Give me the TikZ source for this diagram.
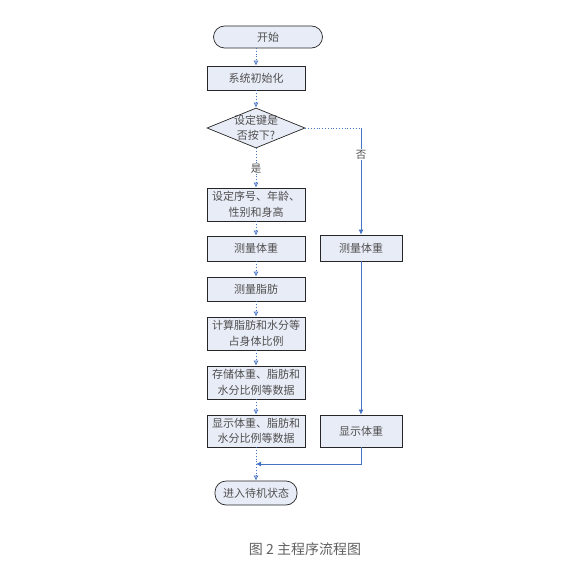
\documentclass[tikz,border=0pt]{standalone}
\usepackage{fontspec}
\setmainfont{Noto Sans CJK SC}
\usetikzlibrary{shapes.geometric,arrows.meta}
\definecolor{boxfill}{HTML}{E8ECF6}
\definecolor{lineblue}{HTML}{4472C4}
\definecolor{txtgray}{HTML}{505050}
\tikzset{
  proc/.style={draw=black!85, line width=0.7pt, fill=boxfill, minimum width=98pt, align=center, text=txtgray, font=\fontsize{11}{15.5}\selectfont, inner sep=0pt},
  term/.style={draw=black!85, line width=0.7pt, fill=boxfill, rounded corners=11pt, align=center, text=txtgray, font=\fontsize{11}{15.5}\selectfont},
  dec/.style={draw=black!85, line width=0.7pt, fill=boxfill, diamond, aspect=2.45, align=center, text=txtgray, font=\fontsize{11}{15}\selectfont, inner sep=-4.5pt, minimum width=98pt, minimum height=40pt},
  dotarrow/.style={draw=lineblue, line width=0.8pt, dotted, -{Latex[length=5pt,width=5pt,open=false]}},
  solarrow/.style={draw=lineblue, line width=0.8pt, -{Latex[length=5pt,width=5pt]}},
  lbl/.style={text=txtgray, font=\fontsize{10.5}{12}\selectfont, fill=white, inner sep=1pt}
}
\begin{document}
\begin{tikzpicture}[x=1pt,y=-1pt]
\useasboundingbox (0,0) rectangle (582,583);
\node[term, minimum width=109pt, minimum height=22pt] (start) at (268,37) {开始};
\node[proc, minimum height=24pt] (init) at (256,78) {系统初始化};
\node[dec] (key) at (256,128) {设定键是\\否按下?};
\node[proc, minimum height=33pt] (set) at (256,204.5) {设定序号、年龄、\\性别和身高};
\node[proc, minimum height=25pt] (w1) at (256,248.5) {测量体重};
\node[proc, minimum height=24pt] (fat) at (256,289) {测量脂肪};
\node[proc, minimum height=33pt] (calc) at (256,333.5) {计算脂肪和水分等\\占身体比例};
\node[proc, minimum height=33pt] (store) at (256,382.5) {存储体重、脂肪和\\水分比例等数据};
\node[proc, minimum height=32pt] (disp) at (256,431) {显示体重、脂肪和\\水分比例等数据};
\node[term, minimum width=82pt, minimum height=24pt] (idle) at (256,493) {进入待机状态};
\node[proc, minimum width=82pt, minimum height=26pt] (w2) at (361,248) {测量体重};
\node[proc, minimum width=82pt, minimum height=32pt] (disp2) at (361,431) {显示体重};
\coordinate (corner) at (361,128);
\coordinate (merge) at (256,464);
\coordinate (startb) at (256,48);

\draw[dotarrow] (startb) -- (init.north);
\draw[dotarrow] (init) -- (key);
\draw[dotarrow] (key) -- node[lbl, pos=0.52] (yes) {是} (set);
\draw[dotarrow] (set) -- (w1);
\draw[dotarrow] (w1) -- (fat);
\draw[dotarrow] (fat) -- (calc);
\draw[dotarrow] (calc) -- (store);
\draw[dotarrow] (store) -- (disp);
\draw[dotarrow] (disp) -- (idle);
\draw[draw=lineblue, line width=0.8pt, dotted] (key.east) -- (corner);
\draw[solarrow] (corner) -- node[lbl, pos=0.25] (no) {否} (w2);
\draw[solarrow] (w2) -- (disp2);
\draw[solarrow] (disp2.south) |- (merge);
\node[text=txtgray!90, font=\fontsize{14}{16}\selectfont] (cap) at (305,549) {图 2 主程序流程图};
\end{tikzpicture}
\end{document}
